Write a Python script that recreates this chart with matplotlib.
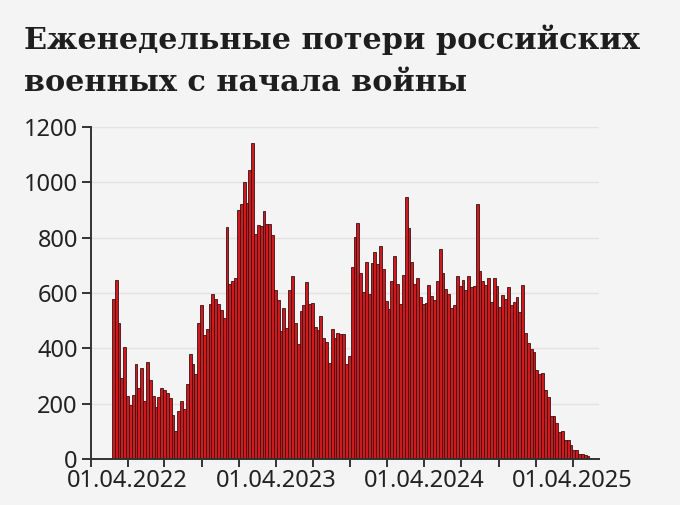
import matplotlib
matplotlib.use("Agg")
import matplotlib.pyplot as plt
import matplotlib.dates as mdates
from matplotlib import font_manager as fm
import numpy as np
import pandas as pd

# ---- data (weekly losses) ----
first_week = "2022-02-25"
weekly_losses = [
    580, 647, 493, 294, 406, 227, 195, 233, 342, 255, 330, 211, 350, 284, 227, 187,
    225, 255, 251, 239, 221, 158, 100, 175, 209, 181, 272, 378, 344, 306, 493, 556,
    448, 469, 562, 596, 580, 562, 539, 509, 837, 634, 642, 654, 900, 922, 1003, 924,
    1045, 1143, 813, 846, 841, 895, 850, 850, 810, 611, 574, 463, 544, 475, 610, 661,
    493, 417, 535, 556, 638, 562, 563, 477, 465, 517, 439, 424, 346, 471, 439, 457,
    451, 451, 342, 372, 695, 801, 852, 672, 602, 711, 596, 707, 749, 705, 769, 686,
    572, 541, 644, 732, 632, 562, 666, 946, 835, 713, 634, 656, 587, 560, 563, 628,
    590, 575, 642, 759, 674, 614, 596, 545, 556, 660, 624, 647, 611, 660, 620, 624,
    920, 680, 642, 630, 656, 566, 654, 624, 551, 593, 580, 620, 556, 568, 584, 533,
    628, 457, 421, 396, 388, 320, 306, 312, 248, 225, 155, 155, 131, 98, 100, 68,
    70, 52, 34, 34, 18, 18, 13, 10, 4,
]
week_dates = pd.date_range(first_week, periods=len(weekly_losses), freq="7D")

title_lines = ["Еженедельные потери российских", "военных с начала войны"]
y_ticks = [0, 200, 400, 600, 800, 1000, 1200]

BG = "#f4f4f4"
BAR = "#cc1a1e"
EDGE = "#3c1212"
INK = "#222222"

W, H = 680, 505
fig = plt.figure(figsize=(W / 100, H / 100), dpi=100, facecolor=BG)
ax = fig.add_axes([91 / W, 1 - 459 / H, (599 - 91) / W, (459 - 127) / H])
ax.set_facecolor(BG)

ax.bar(week_dates, weekly_losses, width=7, align="center",
       color=BAR, edgecolor=EDGE, linewidth=0.6, zorder=3)

ax.set_ylim(0, 1200)
ax.set_xlim(pd.Timestamp("2022-01-01"), pd.Timestamp("2025-06-05"))
ax.set_yticks(y_ticks)
ax.yaxis.grid(True, color="#e2e2e2", linewidth=1.0, zorder=0)
ax.xaxis.grid(False)

ax.xaxis.set_major_locator(mdates.MonthLocator(bymonth=[1, 4, 7, 10], bymonthday=1))
def fmt(x, pos=None):
    d = mdates.num2date(x)
    return d.strftime("%d.%m.%Y") if d.month == 4 else ""
ax.xaxis.set_major_formatter(matplotlib.ticker.FuncFormatter(fmt))

for s in ["top", "right"]:
    ax.spines[s].set_visible(False)
for s in ["left", "bottom"]:
    ax.spines[s].set_color("#333333")
    ax.spines[s].set_linewidth(1.4)
    ax.spines[s].set_zorder(5)

ax.tick_params(axis="y", length=6.5, width=1.4, pad=3.0, colors="#333333",
               labelcolor=INK, labelsize=17)
ax.tick_params(axis="x", length=5.8, width=1.4, pad=1.2, colors="#333333",
               labelcolor=INK, labelsize=17)
for lab in ax.get_xticklabels() + ax.get_yticklabels():
    lab.set_fontfamily(["Noto Sans", "DejaVu Sans"])

# ---- title: choose the serif whose width-fitted cap height is nearest the reference ----
renderer = fig.canvas.get_renderer()
candidates = []
for fam, stretch in [("DejaVu Serif", "condensed"), ("DejaVu Serif", "normal"),
                     ("Liberation Serif", "normal")]:
    fp = fm.FontProperties(family=fam, weight="bold", stretch=stretch)
    path = fm.findfont(fp, fallback_to_default=False)
    if stretch == "condensed" and "ondensed" not in path:
        continue
    candidates.append(fm.FontProperties(fname=path, size=30))

best = None
for fp in candidates:
    t = fig.text(0, 0, title_lines[0], fontproperties=fp)
    wdt = t.get_window_extent(renderer).width
    t.set_text("Е")
    from matplotlib.textpath import TextPath
    tp = TextPath((0, 0), "Е", prop=fp)
    cap = tp.get_extents().height * 100 / 72
    t.remove()
    fs = 30 * 616 / wdt
    capfit = cap * fs / 30
    score = abs(capfit - 23)
    if best is None or score < best[0]:
        best = (score, fp, fs)

_, tfp, tfs = best
tfp = tfp.copy()
tfp.set_size(tfs)
fig.text(24 / W, 1 - 49 / H, title_lines[0], fontproperties=tfp,
         color="#1e1e1e", va="baseline")
fig.text(24 / W, 1 - 91 / H, title_lines[1], fontproperties=tfp,
         color="#1e1e1e", va="baseline")

fig.savefig("out.png", dpi=100, facecolor=BG)
